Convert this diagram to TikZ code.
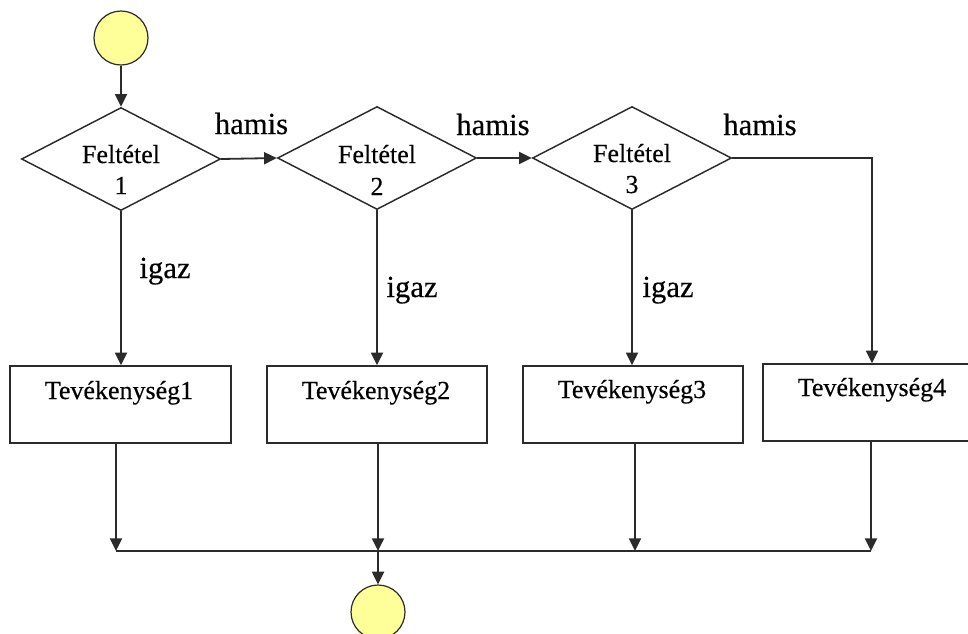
\documentclass[tikz,border=0pt]{standalone}
\usepackage{fontspec}
\setmainfont{Liberation Serif}
\newfontfamily\flowserif[FakeBold=0.4]{Liberation Serif}
\usetikzlibrary{shapes.geometric,arrows.meta,calc}
\definecolor{termyellow}{HTML}{FFFF99}
\definecolor{linegray}{HTML}{2B2B2B}

\begin{document}
\begin{tikzpicture}[x=0.75pt,y=-0.75pt,
  conn/.style={draw=linegray,line width=1.35pt},
  arr/.style={conn,-{Triangle[length=9.5pt,width=9pt]}},
  terminal/.style={circle,draw=linegray,line width=0.9pt,fill=termyellow,minimum size=40.5pt,inner sep=0pt},
  decision/.style={diamond,draw=linegray,line width=1.1pt,minimum width=149.25pt,minimum height=77.25pt,inner sep=0pt},
  activity/.style={rectangle,draw=linegray,line width=1.2pt,minimum width=165pt,minimum height=57.75pt,inner sep=0pt},
  cond/.style={font=\flowserif\fontsize{19.5pt}{23pt}\selectfont,anchor=base,inner sep=0pt},
  acttext/.style={font=\flowserif\fontsize{19.5pt}{23pt}\selectfont,anchor=base,inner sep=0pt},
  branch/.style={font=\flowserif\fontsize{23pt}{27pt}\selectfont,anchor=base,inner sep=0pt}]

\clip (0,0) rectangle (968,633);

% start and end terminals
\node[terminal] (start) at (121,38) {};
\node[terminal] (end) at (378,612) {};

% decisions
\node[decision] (d1) at (121,159) {};
\node[decision] (d2) at (377,158) {};
\node[decision] (d3) at (632,158) {};
\node[cond] (d1a) at (121,163) {Feltétel};
\node[cond] (d1b) at (121,194) {1};
\node[cond] (d2a) at (377,163) {Feltétel};
\node[cond] (d2b) at (377,195) {2};
\node[cond] (d3a) at (632,162) {Feltétel};
\node[cond] (d3b) at (632,193) {3};

% activities
\node[activity,minimum width=165.75pt] (b1) at (120.5,404.5) {};
\node[activity] (b2) at (377,404.5) {};
\node[activity] (b3) at (633,404.5) {};
\node[activity,minimum width=163.5pt] (b4) at (872,402.5) {};
\node[acttext] (t1) at (119,399) {Tevékenység1};
\node[acttext] (t2) at (376,399) {Tevékenység2};
\node[acttext] (t3) at (632,398) {Tevékenység3};
\node[acttext] (t4) at (872,396) {Tevékenység4};

% merge line
\coordinate (j1) at (116,551);
\coordinate (j2) at (378,551);
\coordinate (j3) at (635,551);
\coordinate (j4) at (871,551);

% connectors
\draw[arr] (start) -- (d1);
\draw[arr] (d1.east) -- (d2.west);
\draw[arr] (d2.east) -- (d3.west);
\draw[arr] (d3.east) -| (b4.north);
\draw[arr] (d1.south) -- (d1.south |- b1.north);
\draw[arr] (d2.south) -- (d2.south |- b2.north);
\draw[arr] (d3.south) -- (d3.south |- b3.north);
\draw[arr] (b1.south -| j1) -- (j1);
\draw[arr] (b2.south -| j2) -- (j2);
\draw[arr] (b3.south -| j3) -- (j3);
\draw[arr] (b4.south -| j4) -- (j4);
\draw[conn] (j1) -- (j4);
\draw[arr] (j2) -- (end);

% branch labels
\node[branch] (h1) at (251.5,134) {hamis};
\node[branch] (h2) at (493,135) {hamis};
\node[branch] (h3) at (760,135) {hamis};
\node[branch] (i1) at (165,278) {igaz};
\node[branch] (i2) at (412,297) {igaz};
\node[branch] (i3) at (668,297) {igaz};
\end{tikzpicture}
\end{document}
